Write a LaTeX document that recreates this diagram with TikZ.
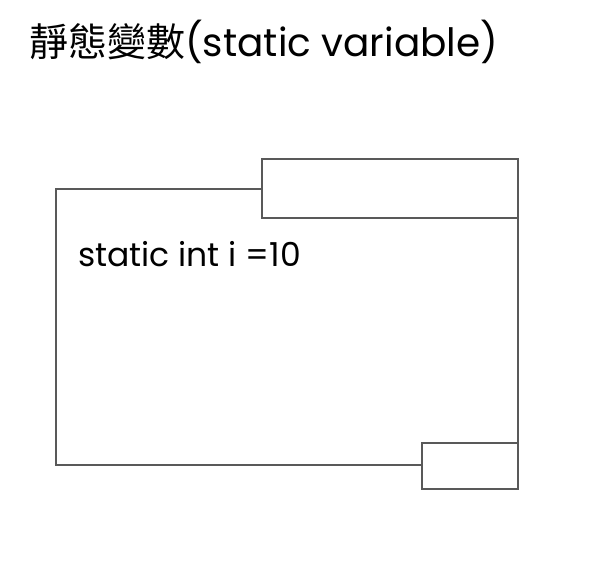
\documentclass[tikz,border=0pt]{standalone}
\usepackage{fontspec}
\setmainfont{Poppins}
\newfontfamily\cjk{Noto Sans CJK TC}
\begin{document}
\begin{tikzpicture}[x=1pt,y=-1pt]
    \tikzset{frame/.style={draw=black!65, line width=1.3pt, fill=white, inner sep=0pt}}
    \useasboundingbox (0,0) rectangle (602,561);
    % the body and its two tabs
    \node [frame, minimum width=462pt, minimum height=276pt] (body) at (287,327) {};
    \node [frame, minimum width=256pt, minimum height=59pt] (top) at (390,188.5) {};
    \node [frame, minimum width=96pt, minimum height=46pt] (bottom) at (470,466) {};
    % texts
    \node [anchor=base west, inner sep=0pt, font=\fontsize{39}{41}\selectfont] (title) at (29,57) {{\cjk 靜態變數}(static variable)};
    \node [anchor=base west, inner sep=0pt, font=\fontsize{33}{35}\selectfont] (decl) at (78,267) {static int i =10};
\end{tikzpicture}
\end{document}
